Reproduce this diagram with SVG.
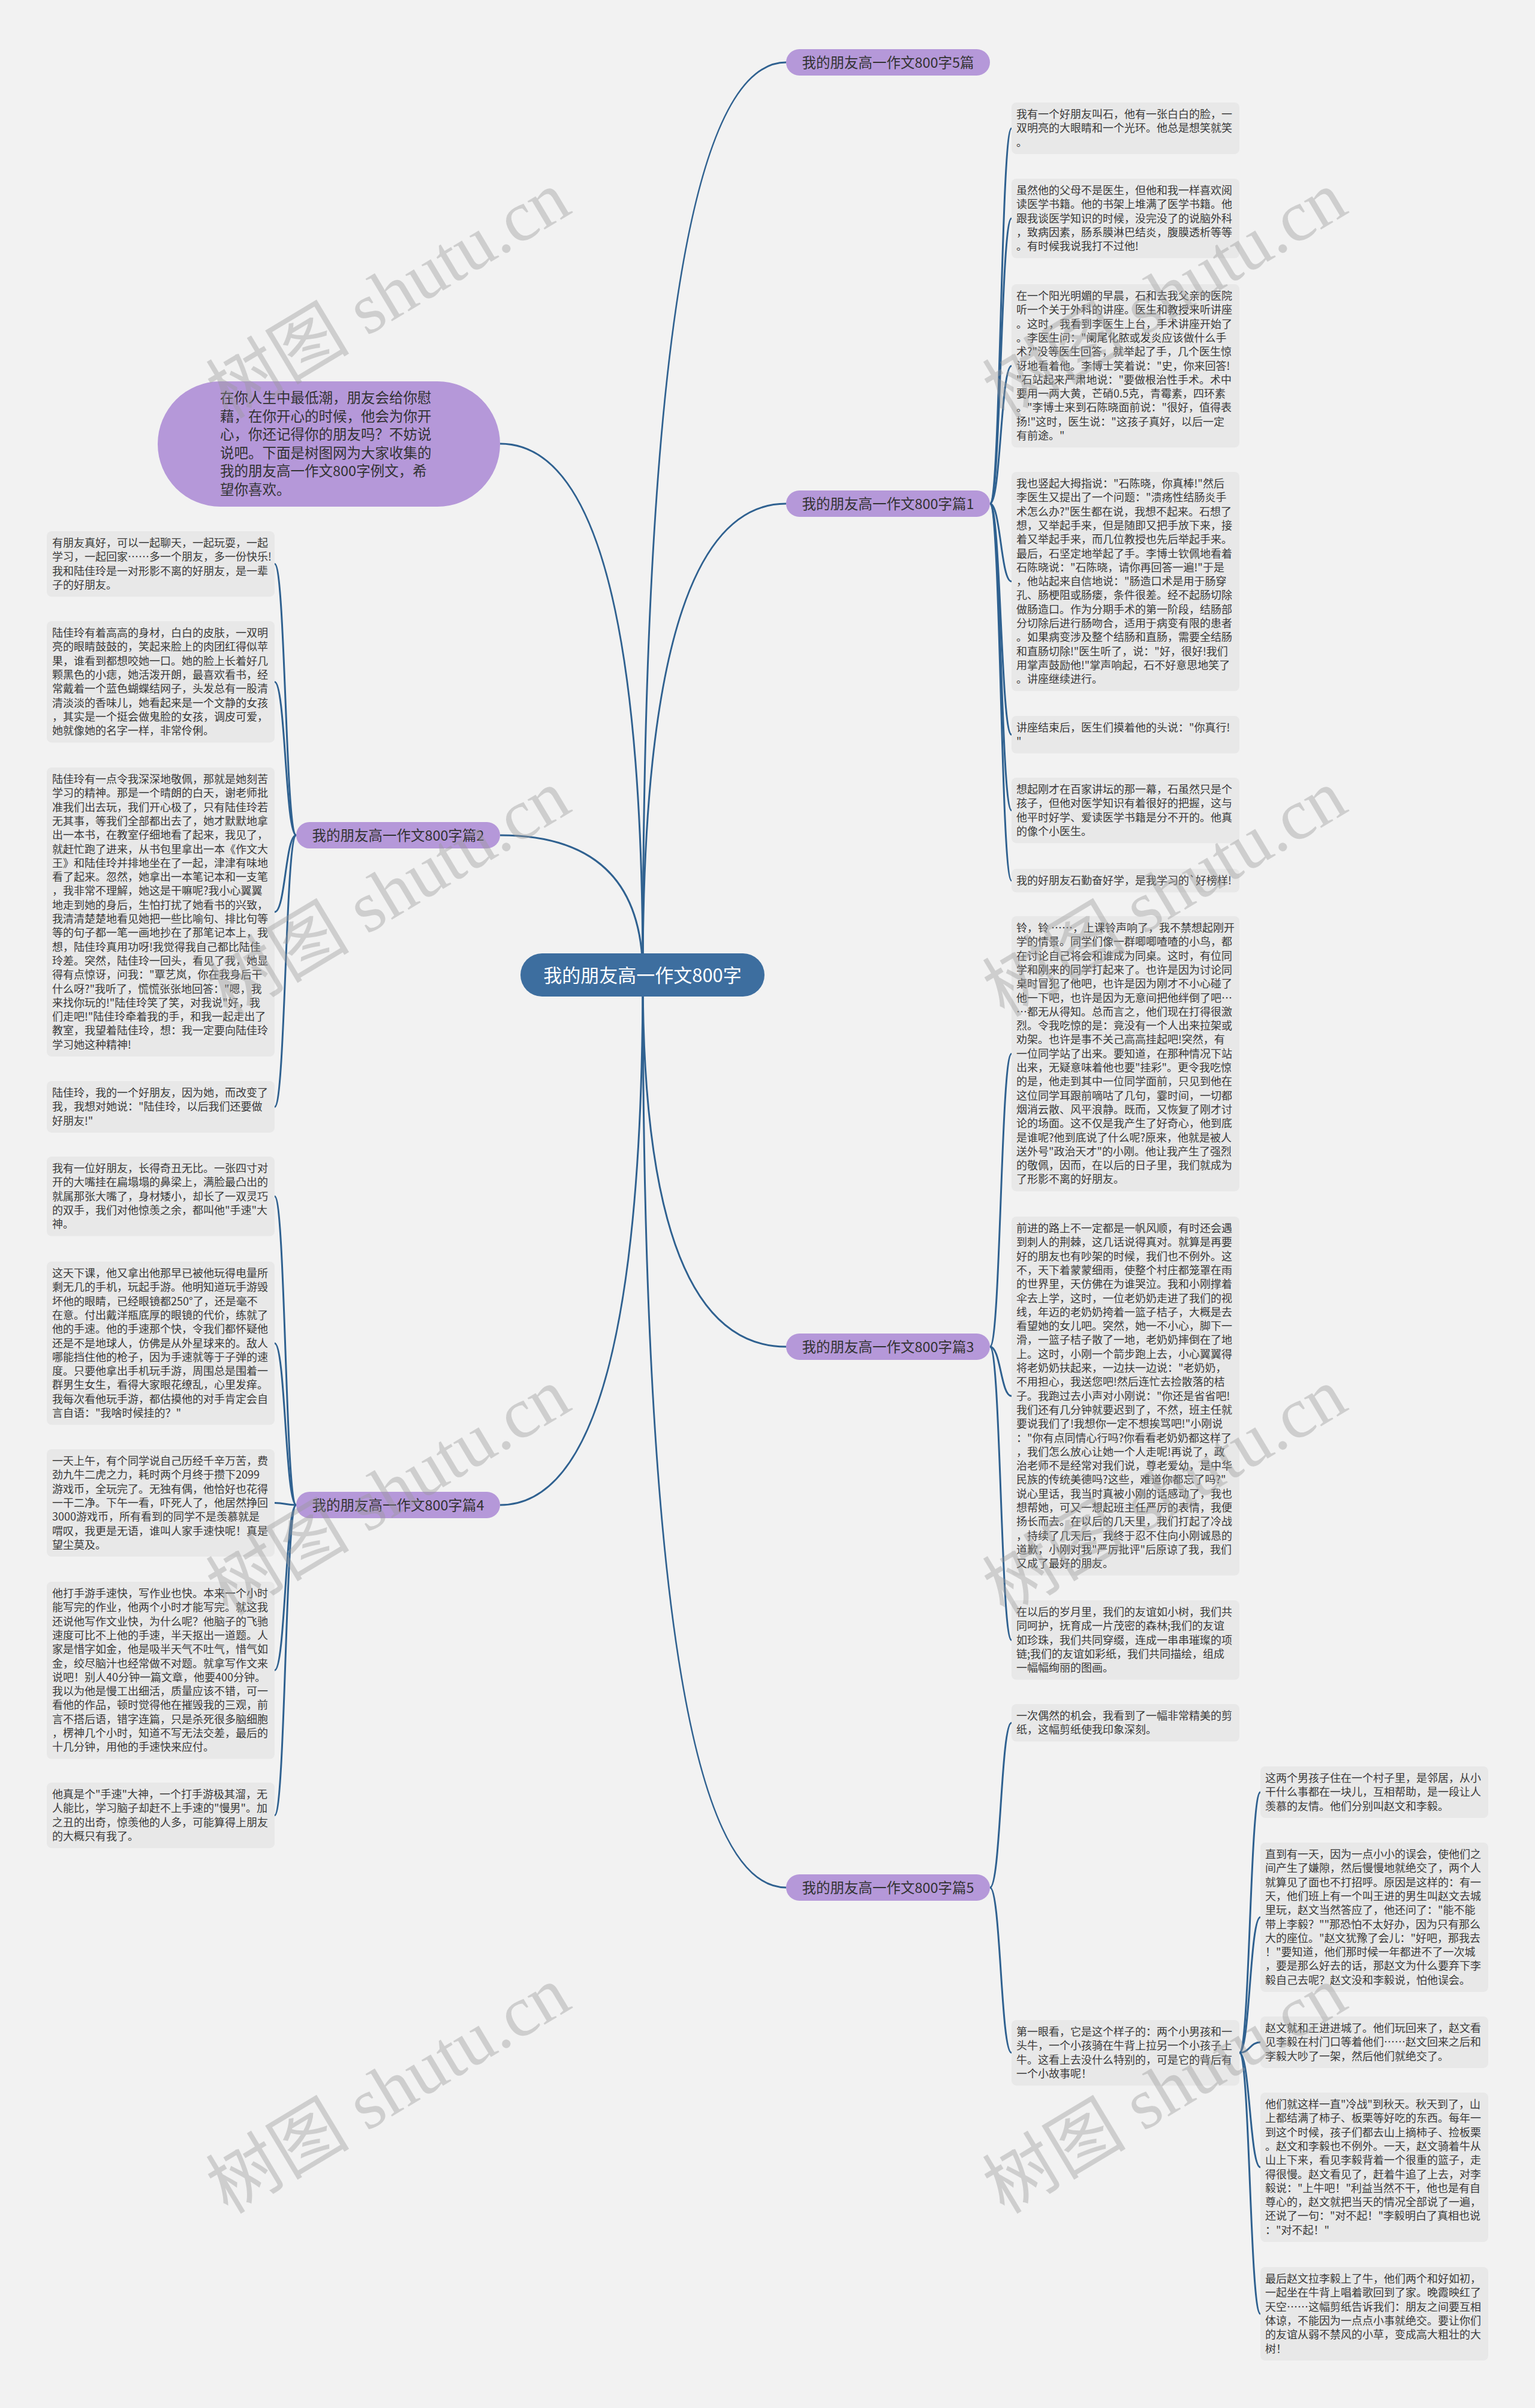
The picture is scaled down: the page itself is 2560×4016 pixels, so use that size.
<svg xmlns="http://www.w3.org/2000/svg" width="2560" height="4016" viewBox="0 0 2560 4016">
<style>
.bg{fill:#f2f2f2}
.box{fill:#e8e8e8}
.t{font-family:"Noto Sans CJK SC","Liberation Sans",sans-serif;font-size:18px;fill:#3a3a3a}
.pill{fill:#b598d9}
.pt{font-family:"Noto Sans CJK SC","Liberation Sans",sans-serif;font-size:23.5px;fill:#333}
.ctr{fill:#3d6e9f}
.ct{font-family:"Noto Sans CJK SC","Liberation Sans",sans-serif;font-size:31px;fill:#ffffff}
.link{fill:none;stroke:#2f6190;stroke-width:3}
.wm{font-family:"Liberation Serif","Noto Sans CJK SC",serif;font-size:120px;fill:#9a9a9a;opacity:0.4}
</style>
<rect class="bg" x="0" y="0" width="2560" height="4016"/>
<g id="connectors">
<path class="link" d="M1072 1626 Q1072 104 1311 104"/>
<path class="link" d="M1072 1626 Q1072 840 1311 840"/>
<path class="link" d="M1072 1626 Q1072 2246 1311 2246"/>
<path class="link" d="M1072 1626 Q1072 3148 1311 3148"/>
<path class="link" d="M1072 1626 Q1072 740 834 740"/>
<path class="link" d="M1072 1626 Q1072 1393 834 1393"/>
<path class="link" d="M1072 1626 Q1072 2510 834 2510"/>
<path class="link" d="M1651 840 C1669 840 1669 214 1687 214"/>
<path class="link" d="M1651 840 C1669 840 1669 364.3 1687 364.3"/>
<path class="link" d="M1651 840 C1669 840 1669 610.2 1687 610.2"/>
<path class="link" d="M1651 840 C1669 840 1669 969.8 1687 969.8"/>
<path class="link" d="M1651 840 C1669 840 1669 1225.3 1687 1225.3"/>
<path class="link" d="M1651 840 C1669 840 1669 1351.6 1687 1351.6"/>
<path class="link" d="M1651 840 C1669 840 1669 1468.7 1687 1468.7"/>
<path class="link" d="M1651 2246 C1669 2246 1669 1757.4 1687 1757.4"/>
<path class="link" d="M1651 2246 C1669 2246 1669 2328.3 1687 2328.3"/>
<path class="link" d="M1651 2246 C1669 2246 1669 2735.3 1687 2735.3"/>
<path class="link" d="M1651 3148 C1669 3148 1669 2873.3 1687 2873.3"/>
<path class="link" d="M1651 3148 C1669 3148 1669 3423.6 1687 3423.6"/>
<path class="link" d="M2067 3423.6 C2084.5 3423.6 2084.5 2989 2102 2989"/>
<path class="link" d="M2067 3423.6 C2084.5 3423.6 2084.5 3197.5 2102 3197.5"/>
<path class="link" d="M2067 3423.6 C2084.5 3423.6 2084.5 3406 2102 3406"/>
<path class="link" d="M2067 3423.6 C2084.5 3423.6 2084.5 3614.5 2102 3614.5"/>
<path class="link" d="M2067 3423.6 C2084.5 3423.6 2084.5 3858.9 2102 3858.9"/>
<path class="link" d="M494 1393 C476 1393 476 940.6 458 940.6"/>
<path class="link" d="M494 1393 C476 1393 476 1137.2 458 1137.2"/>
<path class="link" d="M494 1393 C476 1393 476 1521 458 1521"/>
<path class="link" d="M494 1393 C476 1393 476 1846 458 1846"/>
<path class="link" d="M494 2510 C476 2510 476 1995.3 458 1995.3"/>
<path class="link" d="M494 2510 C476 2510 476 2240.2 458 2240.2"/>
<path class="link" d="M494 2510 C476 2510 476 2506.6 458 2506.6"/>
<path class="link" d="M494 2510 C476 2510 476 2785.8 458 2785.8"/>
<path class="link" d="M494 2510 C476 2510 476 3027.6 458 3027.6"/>
</g>
<g id="center">
<rect class="ctr" x="868" y="1590" width="407" height="72" rx="36"/>
<text class="ct" x="1071.5" y="1638" text-anchor="middle">我的朋友高一作文800字</text>
</g>
<g id="intro">
<rect class="pill" x="263" y="636" width="571" height="209" rx="104.5"/>
<text class="pt" x="367" y="672"><tspan x="367">在你人生中最低潮，朋友会给你慰</tspan><tspan x="367" dy="30.6">藉，在你开心的时候，他会为你开</tspan><tspan x="367" dy="30.6">心，你还记得你的朋友吗？不妨说</tspan><tspan x="367" dy="30.6">说吧。下面是树图网为大家收集的</tspan><tspan x="367" dy="30.6">我的朋友高一作文800字例文，希</tspan><tspan x="367" dy="30.6">望你喜欢。</tspan></text>
</g>
<g id="b5top"><rect class="pill" x="1311" y="82" width="340" height="44" rx="22"/><text class="pt" x="1481" y="113" text-anchor="middle">我的朋友高一作文800字5篇</text></g>
<g id="b1"><rect class="pill" x="1311" y="818" width="340" height="44" rx="22"/><text class="pt" x="1481" y="849" text-anchor="middle">我的朋友高一作文800字篇1</text></g>
<g id="b3"><rect class="pill" x="1311" y="2224" width="340" height="44" rx="22"/><text class="pt" x="1481" y="2255" text-anchor="middle">我的朋友高一作文800字篇3</text></g>
<g id="b5"><rect class="pill" x="1311" y="3126" width="340" height="44" rx="22"/><text class="pt" x="1481" y="3157" text-anchor="middle">我的朋友高一作文800字篇5</text></g>
<g id="b2"><rect class="pill" x="494" y="1371" width="340" height="44" rx="22"/><text class="pt" x="664" y="1402" text-anchor="middle">我的朋友高一作文800字篇2</text></g>
<g id="b4"><rect class="pill" x="494" y="2488" width="340" height="44" rx="22"/><text class="pt" x="664" y="2519" text-anchor="middle">我的朋友高一作文800字篇4</text></g>

<g id="a1"><rect class="box" x="1687" y="171" width="380" height="85.9" rx="8"/><text class="t" y="197"><tspan x="1695">我有一个好朋友叫石，他有一张白白的脸，一</tspan><tspan x="1695" dy="23.3">双明亮的大眼睛和一个光环。他总是想笑就笑</tspan><tspan x="1695" dy="23.3">。</tspan></text></g>
<g id="a2"><rect class="box" x="1687" y="298" width="380" height="132.5" rx="8"/><text class="t" y="324"><tspan x="1695">虽然他的父母不是医生，但他和我一样喜欢阅</tspan><tspan x="1695" dy="23.3">读医学书籍。他的书架上堆满了医学书籍。他</tspan><tspan x="1695" dy="23.3">跟我谈医学知识的时候，没完没了的说脑外科</tspan><tspan x="1695" dy="23.3">，致病因素，肠系膜淋巴结炎，腹膜透析等等</tspan><tspan x="1695" dy="23.3">。有时候我说我打不过他!</tspan></text></g>
<g id="a3"><rect class="box" x="1687" y="474" width="380" height="272.3" rx="8"/><text class="t" y="500"><tspan x="1695">在一个阳光明媚的早晨，石和去我父亲的医院</tspan><tspan x="1695" dy="23.3">听一个关于外科的讲座。医生和教授来听讲座</tspan><tspan x="1695" dy="23.3">。这时，我看到李医生上台，手术讲座开始了</tspan><tspan x="1695" dy="23.3">。李医生问："阑尾化脓或发炎应该做什么手</tspan><tspan x="1695" dy="23.3">术?"没等医生回答，就举起了手，几个医生惊</tspan><tspan x="1695" dy="23.3">讶地看着他。李博士笑着说："史，你来回答!</tspan><tspan x="1695" dy="23.3">"石站起来严肃地说："要做根治性手术。术中</tspan><tspan x="1695" dy="23.3">要用一两大黄，芒硝0.5克，青霉素，四环素</tspan><tspan x="1695" dy="23.3">。"李博士来到石陈晓面前说："很好，值得表</tspan><tspan x="1695" dy="23.3">扬!"这时，医生说："这孩子真好，以后一定</tspan><tspan x="1695" dy="23.3">有前途。"</tspan></text></g>
<g id="b1a"><rect class="box" x="1687" y="787" width="380" height="365.5" rx="8"/><text class="t" y="813"><tspan x="1695">我也竖起大拇指说："石陈晓，你真棒!"然后</tspan><tspan x="1695" dy="23.3">李医生又提出了一个问题："溃疡性结肠炎手</tspan><tspan x="1695" dy="23.3">术怎么办?"医生都在说，我想不起来。石想了</tspan><tspan x="1695" dy="23.3">想，又举起手来，但是随即又把手放下来，接</tspan><tspan x="1695" dy="23.3">着又举起手来，而几位教授也先后举起手来。</tspan><tspan x="1695" dy="23.3">最后，石坚定地举起了手。李博士钦佩地看着</tspan><tspan x="1695" dy="23.3">石陈晓说："石陈晓，请你再回答一遍!"于是</tspan><tspan x="1695" dy="23.3">，他站起来自信地说："肠造口术是用于肠穿</tspan><tspan x="1695" dy="23.3">孔、肠梗阻或肠瘘，条件很差。经不起肠切除</tspan><tspan x="1695" dy="23.3">做肠造口。作为分期手术的第一阶段，结肠部</tspan><tspan x="1695" dy="23.3">分切除后进行肠吻合，适用于病变有限的患者</tspan><tspan x="1695" dy="23.3">。如果病变涉及整个结肠和直肠，需要全结肠</tspan><tspan x="1695" dy="23.3">和直肠切除!"医生听了，说："好，很好!我们</tspan><tspan x="1695" dy="23.3">用掌声鼓励他!"掌声响起，石不好意思地笑了</tspan><tspan x="1695" dy="23.3">。讲座继续进行。</tspan></text></g>
<g id="b1b"><rect class="box" x="1687" y="1194" width="380" height="62.6" rx="8"/><text class="t" y="1220"><tspan x="1695">讲座结束后，医生们摸着他的头说："你真行!</tspan><tspan x="1695" dy="23.3">"</tspan></text></g>
<g id="b1c"><rect class="box" x="1687" y="1297" width="380" height="109.2" rx="8"/><text class="t" y="1323"><tspan x="1695">想起刚才在百家讲坛的那一幕，石虽然只是个</tspan><tspan x="1695" dy="23.3">孩子，但他对医学知识有着很好的把握，这与</tspan><tspan x="1695" dy="23.3">他平时好学、爱读医学书籍是分不开的。他真</tspan><tspan x="1695" dy="23.3">的像个小医生。</tspan></text></g>
<g id="b1d"><rect class="box" x="1687" y="1449" width="380" height="39.3" rx="8"/><text class="t" y="1475"><tspan x="1695">我的好朋友石勤奋好学，是我学习的`好榜样!</tspan></text></g>
<g id="c1"><rect class="box" x="1687" y="1528" width="380" height="458.7" rx="8"/><text class="t" y="1554"><tspan x="1695">铃，铃 ……，上课铃声响了，我不禁想起刚开</tspan><tspan x="1695" dy="23.3">学的情景。同学们像一群唧唧喳喳的小鸟，都</tspan><tspan x="1695" dy="23.3">在讨论自己将会和谁成为同桌。这时，有位同</tspan><tspan x="1695" dy="23.3">学和刚来的同学打起来了。也许是因为讨论同</tspan><tspan x="1695" dy="23.3">桌时冒犯了他吧，也许是因为刚才不小心碰了</tspan><tspan x="1695" dy="23.3">他一下吧，也许是因为无意间把他绊倒了吧…</tspan><tspan x="1695" dy="23.3">…都无从得知。总而言之，他们现在打得很激</tspan><tspan x="1695" dy="23.3">烈。令我吃惊的是：竟没有一个人出来拉架或</tspan><tspan x="1695" dy="23.3">劝架。也许是事不关己高高挂起吧!突然，有</tspan><tspan x="1695" dy="23.3">一位同学站了出来。要知道，在那种情况下站</tspan><tspan x="1695" dy="23.3">出来，无疑意味着他也要"挂彩"。更令我吃惊</tspan><tspan x="1695" dy="23.3">的是，他走到其中一位同学面前，只见到他在</tspan><tspan x="1695" dy="23.3">这位同学耳跟前嘀咕了几句，霎时间，一切都</tspan><tspan x="1695" dy="23.3">烟消云散、风平浪静。既而，又恢复了刚才讨</tspan><tspan x="1695" dy="23.3">论的场面。这不仅是我产生了好奇心，他到底</tspan><tspan x="1695" dy="23.3">是谁呢?他到底说了什么呢?原来，他就是被人</tspan><tspan x="1695" dy="23.3">送外号"政治天才"的小刚。他让我产生了强烈</tspan><tspan x="1695" dy="23.3">的敬佩，因而，在以后的日子里，我们就成为</tspan><tspan x="1695" dy="23.3">了形影不离的好朋友。</tspan></text></g>
<g id="c2"><rect class="box" x="1687" y="2029" width="380" height="598.5" rx="8"/><text class="t" y="2055"><tspan x="1695">前进的路上不一定都是一帆风顺，有时还会遇</tspan><tspan x="1695" dy="23.3">到刺人的荆棘，这几话说得真对。就算是再要</tspan><tspan x="1695" dy="23.3">好的朋友也有吵架的时候，我们也不例外。这</tspan><tspan x="1695" dy="23.3">不，天下着蒙蒙细雨，使整个村庄都笼罩在雨</tspan><tspan x="1695" dy="23.3">的世界里，天仿佛在为谁哭泣。我和小刚撑着</tspan><tspan x="1695" dy="23.3">伞去上学，这时，一位老奶奶走进了我们的视</tspan><tspan x="1695" dy="23.3">线，年迈的老奶奶挎着一篮子桔子，大概是去</tspan><tspan x="1695" dy="23.3">看望她的女儿吧。突然，她一不小心，脚下一</tspan><tspan x="1695" dy="23.3">滑，一篮子桔子散了一地，老奶奶摔倒在了地</tspan><tspan x="1695" dy="23.3">上。这时，小刚一个箭步跑上去，小心翼翼得</tspan><tspan x="1695" dy="23.3">将老奶奶扶起来，一边扶一边说："老奶奶，</tspan><tspan x="1695" dy="23.3">不用担心，我送您吧!然后连忙去捡散落的桔</tspan><tspan x="1695" dy="23.3">子。我跑过去小声对小刚说："你还是省省吧!</tspan><tspan x="1695" dy="23.3">我们还有几分钟就要迟到了，不然，班主任就</tspan><tspan x="1695" dy="23.3">要说我们了!我想你一定不想挨骂吧!"小刚说</tspan><tspan x="1695" dy="23.3">："你有点同情心行吗?你看看老奶奶都这样了</tspan><tspan x="1695" dy="23.3">，我们怎么放心让她一个人走呢!再说了，政</tspan><tspan x="1695" dy="23.3">治老师不是经常对我们说，尊老爱幼，是中华</tspan><tspan x="1695" dy="23.3">民族的传统美德吗?这些，难道你都忘了吗?"</tspan><tspan x="1695" dy="23.3">说心里话，我当时真被小刚的话感动了，我也</tspan><tspan x="1695" dy="23.3">想帮她，可又一想起班主任严厉的表情，我便</tspan><tspan x="1695" dy="23.3">扬长而去。在以后的几天里，我们打起了冷战</tspan><tspan x="1695" dy="23.3">，持续了几天后，我终于忍不住向小刚诚恳的</tspan><tspan x="1695" dy="23.3">道歉，小刚对我"严厉批评"后原谅了我，我们</tspan><tspan x="1695" dy="23.3">又成了最好的朋友。</tspan></text></g>
<g id="c3"><rect class="box" x="1687" y="2669" width="380" height="132.5" rx="8"/><text class="t" y="2695"><tspan x="1695">在以后的岁月里，我们的友谊如小树，我们共</tspan><tspan x="1695" dy="23.3">同呵护，抚育成一片茂密的森林;我们的友谊</tspan><tspan x="1695" dy="23.3">如珍珠，我们共同穿缀，连成一串串璀璨的项</tspan><tspan x="1695" dy="23.3">链;我们的友谊如彩纸，我们共同描绘，组成</tspan><tspan x="1695" dy="23.3">一幅幅绚丽的图画。</tspan></text></g>
<g id="c4"><rect class="box" x="1687" y="2842" width="380" height="62.6" rx="8"/><text class="t" y="2868"><tspan x="1695">一次偶然的机会，我看到了一幅非常精美的剪</tspan><tspan x="1695" dy="23.3">纸，这幅剪纸使我印象深刻。</tspan></text></g>
<g id="d"><rect class="box" x="1687" y="3369" width="380" height="109.2" rx="8"/><text class="t" y="3395"><tspan x="1695">第一眼看，它是这个样子的：两个小男孩和一</tspan><tspan x="1695" dy="23.3">头牛，一个小孩骑在牛背上拉另一个小孩子上</tspan><tspan x="1695" dy="23.3">牛。这看上去没什么特别的，可是它的背后有</tspan><tspan x="1695" dy="23.3">一个小故事呢！</tspan></text></g>
<g id="e1"><rect class="box" x="2102" y="2946" width="380" height="85.9" rx="8"/><text class="t" y="2972"><tspan x="2110">这两个男孩子住在一个村子里，是邻居，从小</tspan><tspan x="2110" dy="23.3">干什么事都在一块儿，互相帮助，是一段让人</tspan><tspan x="2110" dy="23.3">羡慕的友情。他们分别叫赵文和李毅。</tspan></text></g>
<g id="e2"><rect class="box" x="2102" y="3073" width="380" height="249" rx="8"/><text class="t" y="3099"><tspan x="2110">直到有一天，因为一点小小的误会，使他们之</tspan><tspan x="2110" dy="23.3">间产生了嫌隙，然后慢慢地就绝交了，两个人</tspan><tspan x="2110" dy="23.3">就算见了面也不打招呼。原因是这样的：有一</tspan><tspan x="2110" dy="23.3">天，他们班上有一个叫王进的男生叫赵文去城</tspan><tspan x="2110" dy="23.3">里玩，赵文当然答应了，他还问了："能不能</tspan><tspan x="2110" dy="23.3">带上李毅？""那恐怕不太好办，因为只有那么</tspan><tspan x="2110" dy="23.3">大的座位。"赵文犹豫了会儿："好吧，那我去</tspan><tspan x="2110" dy="23.3">！"要知道，他们那时候一年都进不了一次城</tspan><tspan x="2110" dy="23.3">，要是那么好去的话，那赵文为什么要弃下李</tspan><tspan x="2110" dy="23.3">毅自己去呢？赵文没和李毅说，怕他误会。</tspan></text></g>
<g id="e3"><rect class="box" x="2102" y="3363" width="380" height="85.9" rx="8"/><text class="t" y="3389"><tspan x="2110">赵文就和王进进城了。他们玩回来了，赵文看</tspan><tspan x="2110" dy="23.3">见李毅在村门口等着他们……赵文回来之后和</tspan><tspan x="2110" dy="23.3">李毅大吵了一架，然后他们就绝交了。</tspan></text></g>
<g id="e4"><rect class="box" x="2102" y="3490" width="380" height="249" rx="8"/><text class="t" y="3516"><tspan x="2110">他们就这样一直"冷战"到秋天。秋天到了，山</tspan><tspan x="2110" dy="23.3">上都结满了柿子、板栗等好吃的东西。每年一</tspan><tspan x="2110" dy="23.3">到这个时候，孩子们都去山上摘柿子、捡板栗</tspan><tspan x="2110" dy="23.3">。赵文和李毅也不例外。一天，赵文骑着牛从</tspan><tspan x="2110" dy="23.3">山上下来，看见李毅背着一个很重的篮子，走</tspan><tspan x="2110" dy="23.3">得很慢。赵文看见了，赶着牛追了上去，对李</tspan><tspan x="2110" dy="23.3">毅说："上牛吧！"利益当然不干，他也是有自</tspan><tspan x="2110" dy="23.3">尊心的，赵文就把当天的情况全部说了一遍，</tspan><tspan x="2110" dy="23.3">还说了一句："对不起！"李毅明白了真相也说</tspan><tspan x="2110" dy="23.3">："对不起！"</tspan></text></g>
<g id="e5"><rect class="box" x="2102" y="3781" width="380" height="155.8" rx="8"/><text class="t" y="3807"><tspan x="2110">最后赵文拉李毅上了牛，他们两个和好如初，</tspan><tspan x="2110" dy="23.3">一起坐在牛背上唱着歌回到了家。晚霞映红了</tspan><tspan x="2110" dy="23.3">天空……这幅剪纸告诉我们：朋友之间要互相</tspan><tspan x="2110" dy="23.3">体谅，不能因为一点点小事就绝交。要让你们</tspan><tspan x="2110" dy="23.3">的友谊从弱不禁风的小草，变成高大粗壮的大</tspan><tspan x="2110" dy="23.3">树！</tspan></text></g>
<g id="f1"><rect class="box" x="78" y="886" width="380" height="109.2" rx="8"/><text class="t" y="912"><tspan x="87">有朋友真好，可以一起聊天，一起玩耍，一起</tspan><tspan x="87" dy="23.3">学习，一起回家……多一个朋友，多一份快乐!</tspan><tspan x="87" dy="23.3">我和陆佳玲是一对形影不离的好朋友，是一辈</tspan><tspan x="87" dy="23.3">子的好朋友。</tspan></text></g>
<g id="f2"><rect class="box" x="78" y="1036" width="380" height="202.4" rx="8"/><text class="t" y="1062"><tspan x="87">陆佳玲有着高高的身材，白白的皮肤，一双明</tspan><tspan x="87" dy="23.3">亮的眼睛鼓鼓的，笑起来脸上的肉团红得似苹</tspan><tspan x="87" dy="23.3">果，谁看到都想咬她一口。她的脸上长着好几</tspan><tspan x="87" dy="23.3">颗黑色的小痣，她活泼开朗，最喜欢看书，经</tspan><tspan x="87" dy="23.3">常戴着一个蓝色蝴蝶结网子，头发总有一股清</tspan><tspan x="87" dy="23.3">清淡淡的香味儿，她看起来是一个文静的女孩</tspan><tspan x="87" dy="23.3">，其实是一个挺会做鬼脸的女孩，调皮可爱，</tspan><tspan x="87" dy="23.3">她就像她的名字一样，非常伶俐。</tspan></text></g>
<g id="f3"><rect class="box" x="78" y="1280" width="380" height="482" rx="8"/><text class="t" y="1306"><tspan x="87">陆佳玲有一点令我深深地敬佩，那就是她刻苦</tspan><tspan x="87" dy="23.3">学习的精神。那是一个晴朗的白天，谢老师批</tspan><tspan x="87" dy="23.3">准我们出去玩，我们开心极了，只有陆佳玲若</tspan><tspan x="87" dy="23.3">无其事，等我们全部都出去了，她才默默地拿</tspan><tspan x="87" dy="23.3">出一本书，在教室仔细地看了起来，我见了，</tspan><tspan x="87" dy="23.3">就赶忙跑了进来，从书包里拿出一本《作文大</tspan><tspan x="87" dy="23.3">王》和陆佳玲并排地坐在了一起，津津有味地</tspan><tspan x="87" dy="23.3">看了起来。忽然，她拿出一本笔记本和一支笔</tspan><tspan x="87" dy="23.3">，我非常不理解，她这是干嘛呢?我小心翼翼</tspan><tspan x="87" dy="23.3">地走到她的身后，生怕打扰了她看书的兴致，</tspan><tspan x="87" dy="23.3">我清清楚楚地看见她把一些比喻句、排比句等</tspan><tspan x="87" dy="23.3">等的句子都一笔一画地抄在了那笔记本上，我</tspan><tspan x="87" dy="23.3">想，陆佳玲真用功呀!我觉得我自己都比陆佳</tspan><tspan x="87" dy="23.3">玲差。突然，陆佳玲一回头，看见了我，她显</tspan><tspan x="87" dy="23.3">得有点惊讶，问我："覃艺岚，你在我身后干</tspan><tspan x="87" dy="23.3">什么呀?"我听了，慌慌张张地回答："嗯，我</tspan><tspan x="87" dy="23.3">来找你玩的!"陆佳玲笑了笑，对我说"好，我</tspan><tspan x="87" dy="23.3">们走吧!"陆佳玲牵着我的手，和我一起走出了</tspan><tspan x="87" dy="23.3">教室，我望着陆佳玲，想：我一定要向陆佳玲</tspan><tspan x="87" dy="23.3">学习她这种精神!</tspan></text></g>
<g id="f4"><rect class="box" x="78" y="1803" width="380" height="85.9" rx="8"/><text class="t" y="1829"><tspan x="87">陆佳玲，我的一个好朋友，因为她，而改变了</tspan><tspan x="87" dy="23.3">我，我想对她说："陆佳玲，以后我们还要做</tspan><tspan x="87" dy="23.3">好朋友!"</tspan></text></g>
<g id="g1"><rect class="box" x="78" y="1929" width="380" height="132.5" rx="8"/><text class="t" y="1955"><tspan x="87">我有一位好朋友，长得奇丑无比。一张四寸对</tspan><tspan x="87" dy="23.3">开的大嘴挂在扁塌塌的鼻梁上，满脸最凸出的</tspan><tspan x="87" dy="23.3">就属那张大嘴了，身材矮小，却长了一双灵巧</tspan><tspan x="87" dy="23.3">的双手，我们对他惊羡之余，都叫他"手速"大</tspan><tspan x="87" dy="23.3">神。</tspan></text></g>
<g id="g2"><rect class="box" x="78" y="2104" width="380" height="272.3" rx="8"/><text class="t" y="2130"><tspan x="87">这天下课，他又拿出他那早已被他玩得电量所</tspan><tspan x="87" dy="23.3">剩无几的手机，玩起手游。他明知道玩手游毁</tspan><tspan x="87" dy="23.3">坏他的眼睛，已经眼镜都250°了，还是毫不</tspan><tspan x="87" dy="23.3">在意。付出戴洋瓶底厚的眼镜的代价，练就了</tspan><tspan x="87" dy="23.3">他的手速。他的手速那个快，令我们都怀疑他</tspan><tspan x="87" dy="23.3">还是不是地球人，仿佛是从外星球来的。敌人</tspan><tspan x="87" dy="23.3">哪能挡住他的枪子，因为手速就等于子弹的速</tspan><tspan x="87" dy="23.3">度。只要他拿出手机玩手游，周围总是围着一</tspan><tspan x="87" dy="23.3">群男生女生，看得大家眼花缭乱，心里发痒。</tspan><tspan x="87" dy="23.3">我每次看他玩手游，都估摸他的对手肯定会自</tspan><tspan x="87" dy="23.3">言自语："我啥时候挂的？"</tspan></text></g>
<g id="g3"><rect class="box" x="78" y="2417" width="380" height="179.1" rx="8"/><text class="t" y="2443"><tspan x="87">一天上午，有个同学说自己历经千辛万苦，费</tspan><tspan x="87" dy="23.3">劲九牛二虎之力，耗时两个月终于攒下2099</tspan><tspan x="87" dy="23.3">游戏币，全玩完了。无独有偶，他恰好也花得</tspan><tspan x="87" dy="23.3">一干二净。下午一看，吓死人了，他居然挣回</tspan><tspan x="87" dy="23.3">3000游戏币，所有看到的同学不是羡慕就是</tspan><tspan x="87" dy="23.3">喟叹，我更是无语，谁叫人家手速快呢！真是</tspan><tspan x="87" dy="23.3">望尘莫及。</tspan></text></g>
<g id="g4"><rect class="box" x="78" y="2638" width="380" height="295.6" rx="8"/><text class="t" y="2664"><tspan x="87">他打手游手速快，写作业也快。本来一个小时</tspan><tspan x="87" dy="23.3">能写完的作业，他两个小时才能写完。就这我</tspan><tspan x="87" dy="23.3">还说他写作文业快，为什么呢？他脑子的飞驰</tspan><tspan x="87" dy="23.3">速度可比不上他的手速，半天抠出一道题。人</tspan><tspan x="87" dy="23.3">家是惜字如金，他是吸半天气不吐气，惜气如</tspan><tspan x="87" dy="23.3">金，绞尽脑汁也经常做不对题。就拿写作文来</tspan><tspan x="87" dy="23.3">说吧！别人40分钟一篇文章，他要400分钟。</tspan><tspan x="87" dy="23.3">我以为他是慢工出细活，质量应该不错，可一</tspan><tspan x="87" dy="23.3">看他的作品，顿时觉得他在摧毁我的三观，前</tspan><tspan x="87" dy="23.3">言不搭后语，错字连篇，只是杀死很多脑细胞</tspan><tspan x="87" dy="23.3">，楞神几个小时，知道不写无法交差，最后的</tspan><tspan x="87" dy="23.3">十几分钟，用他的手速快来应付。</tspan></text></g>
<g id="g5"><rect class="box" x="78" y="2973" width="380" height="109.2" rx="8"/><text class="t" y="2999"><tspan x="87">他真是个"手速"大神，一个打手游极其溜，无</tspan><tspan x="87" dy="23.3">人能比，学习脑子却赶不上手速的"慢男"。加</tspan><tspan x="87" dy="23.3">之丑的出奇，惊羡他的人多，可能算得上朋友</tspan><tspan x="87" dy="23.3">的大概只有我了。</tspan></text></g>
<g id="watermarks">
<text class="wm" transform="translate(380 700) rotate(-31)">树图 shutu.cn</text>
<text class="wm" transform="translate(1675 700) rotate(-31)">树图 shutu.cn</text>
<text class="wm" transform="translate(380 1698) rotate(-31)">树图 shutu.cn</text>
<text class="wm" transform="translate(1675 1698) rotate(-31)">树图 shutu.cn</text>
<text class="wm" transform="translate(380 2696) rotate(-31)">树图 shutu.cn</text>
<text class="wm" transform="translate(1675 2696) rotate(-31)">树图 shutu.cn</text>
<text class="wm" transform="translate(380 3694) rotate(-31)">树图 shutu.cn</text>
<text class="wm" transform="translate(1675 3694) rotate(-31)">树图 shutu.cn</text>
</g>
</svg>
